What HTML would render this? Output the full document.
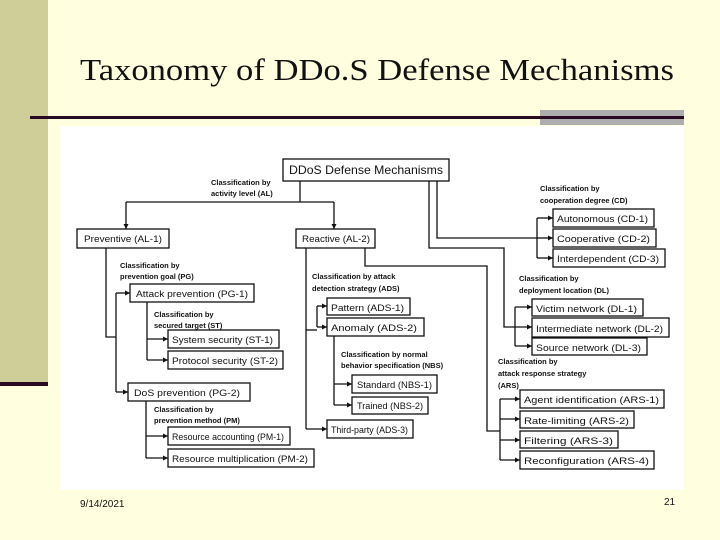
<!DOCTYPE html>
<html><head><meta charset="utf-8"><style>
html,body{margin:0;padding:0;}
body{width:720px;height:540px;background:#ffffe0;position:relative;overflow:hidden;font-family:"Liberation Sans",sans-serif;}
</style></head><body>
<svg width="720" height="540" viewBox="0 0 720 540" xmlns="http://www.w3.org/2000/svg" style="position:absolute;left:0;top:0">
<defs><marker id="a" markerWidth="6" markerHeight="6" refX="5" refY="3" orient="auto" markerUnits="userSpaceOnUse"><path d="M0,0.5 L5,3 L0,5.5 z" fill="#111"/></marker></defs>
<rect x="0" y="0" width="720" height="540" fill="#ffffe0"/>
<rect x="0" y="0" width="48" height="383" fill="#cfcd98"/>
<rect x="0" y="382" width="48" height="4" fill="#2a0a22"/>
<text x="377" y="80" font-family="Liberation Serif, serif" font-size="31" text-anchor="middle" fill="#111" textLength="594" lengthAdjust="spacingAndGlyphs">Taxonomy of DDo.S Defense Mechanisms</text>
<rect x="540" y="110" width="144" height="15" fill="#aeaeae"/>
<rect x="30" y="116" width="654" height="3" fill="#2a0a22"/>
<rect x="60" y="126" width="624" height="364" fill="#fff"/>
<text x="80" y="507" font-size="10" fill="#111">9/14/2021</text>
<text x="664" y="505" font-size="10" fill="#111">21</text>

<g fill="none" stroke="#111" stroke-width="1.3">
<polyline points="300,181 300,202"/>
<polyline points="126,202 334,202"/>
<line x1="126" y1="202" x2="126" y2="229" marker-end="url(#a)"/>
<line x1="334" y1="202" x2="334" y2="229" marker-end="url(#a)"/>
<polyline points="106,248 106,337 116,337"/>
<polyline points="116,293 116,392"/>
<line x1="116" y1="293" x2="130" y2="293" marker-end="url(#a)"/>
<line x1="116" y1="392" x2="128" y2="392" marker-end="url(#a)"/>
<polyline points="147,302 147,360"/>
<line x1="147" y1="339" x2="168" y2="339" marker-end="url(#a)"/>
<line x1="147" y1="360" x2="168" y2="360" marker-end="url(#a)"/>
<polyline points="146,400 146,458"/>
<line x1="146" y1="436" x2="168" y2="436" marker-end="url(#a)"/>
<line x1="146" y1="458" x2="168" y2="458" marker-end="url(#a)"/>
<polyline points="306,248 306,429"/>
<line x1="306" y1="429" x2="327" y2="429" marker-end="url(#a)"/>
<polyline points="306,330 317,330"/>
<polyline points="317,306 317,327"/>
<line x1="317" y1="306" x2="327" y2="306" marker-end="url(#a)"/>
<line x1="317" y1="327" x2="327" y2="327" marker-end="url(#a)"/>
<polyline points="334,336 334,405"/>
<line x1="334" y1="384" x2="352" y2="384" marker-end="url(#a)"/>
<line x1="334" y1="405" x2="352" y2="405" marker-end="url(#a)"/>
<polyline points="365,248 365,266 487,266 487,431 500,431"/>
<polyline points="500,399 500,460"/>
<line x1="500" y1="399" x2="520" y2="399" marker-end="url(#a)"/>
<line x1="500" y1="419" x2="520" y2="419" marker-end="url(#a)"/>
<line x1="500" y1="440" x2="520" y2="440" marker-end="url(#a)"/>
<line x1="500" y1="460" x2="520" y2="460" marker-end="url(#a)"/>
<polyline points="437,181 437,238 537,238"/>
<line x1="537" y1="238" x2="553" y2="238" marker-end="url(#a)"/>
<polyline points="537,218 537,258"/>
<line x1="537" y1="218" x2="553" y2="218" marker-end="url(#a)"/>
<line x1="537" y1="258" x2="553" y2="258" marker-end="url(#a)"/>
<polyline points="429,181 429,248 504,248 504,327 515,327"/>
<line x1="515" y1="327" x2="532" y2="327" marker-end="url(#a)"/>
<polyline points="515,307 515,346"/>
<line x1="515" y1="307" x2="532" y2="307" marker-end="url(#a)"/>
<line x1="515" y1="346" x2="532" y2="346" marker-end="url(#a)"/>
</g>

<g fill="#fff" stroke="#111" stroke-width="1.3">
<rect x="283" y="159" width="166" height="22"/>
<rect x="77" y="229" width="92" height="19"/>
<rect x="296" y="229" width="79" height="19"/>
<rect x="130" y="284" width="124" height="18"/>
<rect x="168" y="330" width="111" height="18"/>
<rect x="168" y="351" width="115" height="18"/>
<rect x="128" y="383" width="122" height="18"/>
<rect x="168" y="427" width="122" height="18"/>
<rect x="168" y="449" width="146" height="18"/>
<rect x="327" y="298" width="83" height="17"/>
<rect x="327" y="318" width="97" height="18"/>
<rect x="352" y="375" width="85" height="18"/>
<rect x="352" y="397" width="76" height="17"/>
<rect x="327" y="420" width="86" height="18"/>
<rect x="553" y="209" width="101" height="18"/>
<rect x="553" y="229" width="103" height="18"/>
<rect x="553" y="249" width="112" height="18"/>
<rect x="532" y="299" width="111" height="17"/>
<rect x="532" y="318" width="137" height="19"/>
<rect x="532" y="338" width="115" height="17"/>
<rect x="520" y="390" width="144" height="18"/>
<rect x="520" y="411" width="114" height="17"/>
<rect x="520" y="431" width="98" height="17"/>
<rect x="520" y="451" width="134" height="18"/>
</g>

<g font-size="9.5" fill="#111" lengthAdjust="spacingAndGlyphs">
<text x="289" y="174" font-size="12" textLength="154" lengthAdjust="spacingAndGlyphs">DDoS Defense Mechanisms</text>
<text x="84" y="242" textLength="78" lengthAdjust="spacingAndGlyphs">Preventive (AL-1)</text>
<text x="302" y="242" textLength="68" lengthAdjust="spacingAndGlyphs">Reactive (AL-2)</text>
<text x="136" y="297" textLength="112" lengthAdjust="spacingAndGlyphs">Attack prevention (PG-1)</text>
<text x="172" y="343" textLength="101" lengthAdjust="spacingAndGlyphs">System security (ST-1)</text>
<text x="172" y="364" textLength="106" lengthAdjust="spacingAndGlyphs">Protocol security (ST-2)</text>
<text x="134" y="396" textLength="106" lengthAdjust="spacingAndGlyphs">DoS prevention (PG-2)</text>
<text x="172" y="440" textLength="112" lengthAdjust="spacingAndGlyphs">Resource accounting (PM-1)</text>
<text x="172" y="462" textLength="136" lengthAdjust="spacingAndGlyphs">Resource multiplication (PM-2)</text>
<text x="331" y="311" textLength="73" lengthAdjust="spacingAndGlyphs">Pattern (ADS-1)</text>
<text x="331" y="331" textLength="86" lengthAdjust="spacingAndGlyphs">Anomaly (ADS-2)</text>
<text x="357" y="388" textLength="75" lengthAdjust="spacingAndGlyphs">Standard (NBS-1)</text>
<text x="357" y="409" textLength="66" lengthAdjust="spacingAndGlyphs">Trained (NBS-2)</text>
<text x="331" y="433" textLength="77" lengthAdjust="spacingAndGlyphs">Third-party (ADS-3)</text>
<text x="557" y="222" textLength="91" lengthAdjust="spacingAndGlyphs">Autonomous (CD-1)</text>
<text x="557" y="242" textLength="93" lengthAdjust="spacingAndGlyphs">Cooperative (CD-2)</text>
<text x="557" y="262" textLength="102" lengthAdjust="spacingAndGlyphs">Interdependent (CD-3)</text>
<text x="536" y="312" textLength="101" lengthAdjust="spacingAndGlyphs">Victim network (DL-1)</text>
<text x="536" y="332" textLength="127" lengthAdjust="spacingAndGlyphs">Intermediate network (DL-2)</text>
<text x="536" y="351" textLength="105" lengthAdjust="spacingAndGlyphs">Source network (DL-3)</text>
<text x="524" y="403" textLength="135" lengthAdjust="spacingAndGlyphs">Agent identification (ARS-1)</text>
<text x="524" y="424" textLength="105" lengthAdjust="spacingAndGlyphs">Rate-limiting (ARS-2)</text>
<text x="524" y="444" textLength="89" lengthAdjust="spacingAndGlyphs">Filtering (ARS-3)</text>
<text x="524" y="464" textLength="125" lengthAdjust="spacingAndGlyphs">Reconfiguration (ARS-4)</text>
</g>
<g font-size="7.5" font-weight="bold" fill="#111">
<text x="211" y="185">Classification by</text><text x="211" y="196">activity level (AL)</text>
<text x="120" y="268">Classification by</text><text x="120" y="279">prevention goal (PG)</text>
<text x="154" y="317">Classification by</text><text x="154" y="328">secured target (ST)</text>
<text x="154" y="412">Classification by</text><text x="154" y="423">prevention method (PM)</text>
<text x="312" y="279">Classification by attack</text><text x="312" y="291">detection strategy (ADS)</text>
<text x="341" y="357">Classification by normal</text><text x="341" y="368">behavior specification (NBS)</text>
<text x="540" y="191">Classification by</text><text x="540" y="203">cooperation degree (CD)</text>
<text x="519" y="281">Classification by</text><text x="519" y="293">deployment location (DL)</text>
<text x="498" y="364">Classification by</text><text x="498" y="376">attack response strategy</text><text x="498" y="388">(ARS)</text>
</g>
</svg>
</body></html>
